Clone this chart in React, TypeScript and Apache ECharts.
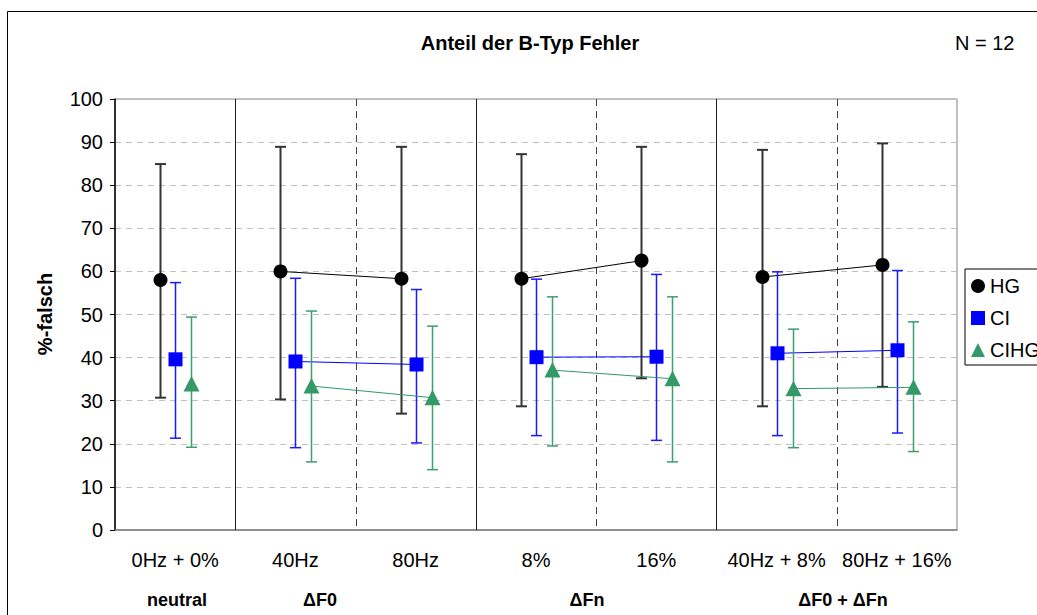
import React, { useEffect, useRef } from "react";
import * as echarts from "echarts";

const FONT = "'Liberation Sans', Arial, sans-serif";

// Conditions on the x axis
const categories = ["0Hz + 0%", "40Hz", "80Hz", "8%", "16%", "40Hz + 8%", "80Hz + 16%"];
// Condition groups written under the axis
const groupLabels = ["neutral", "\u0394F0", "\u0394Fn", "\u0394F0 + \u0394Fn"];
const groupLabelX = [177, 320, 587, 843];
// Y ticks
const yTicks = [0, 10, 20, 30, 40, 50, 60, 70, 80, 90, 100];

// Mean and range (lower / upper whisker) per listener group, in %
const hgMean = [58.0, 60.0, 58.3, 58.3, 62.5, 58.7, 61.5];
const hgLow = [30.7, 30.3, 27.0, 28.7, 35.2, 28.7, 33.2];
const hgHigh = [84.9, 88.9, 88.9, 87.2, 88.9, 88.2, 89.7];

const ciMean = [39.6, 39.1, 38.4, 40.1, 40.2, 41.0, 41.7];
const ciLow = [21.3, 19.1, 20.2, 21.9, 20.8, 21.9, 22.5];
const ciHigh = [57.4, 58.4, 55.8, 58.2, 59.3, 59.9, 60.2];

const cihgMean = [33.9, 33.4, 30.7, 37.1, 35.1, 32.8, 33.1];
const cihgLow = [19.2, 15.8, 14.0, 19.5, 15.8, 19.1, 18.2];
const cihgHigh = [49.4, 50.8, 47.3, 54.1, 54.1, 46.6, 48.3];

// Conditions whose mean is joined to the following condition
const linkedStarts = [1, 3, 5];
// Boundaries between categories: solid = group border, dashed = inside a group
const solidBounds = [1, 3, 5];
const dashedBounds = [2, 4, 6];

type Marker = "circle" | "rect" | "triangle";

function groupSeries(
  name: string,
  means: number[],
  lows: number[],
  highs: number[],
  color: string,
  barColor: string,
  barWidth: number,
  marker: Marker,
  offset: number
) {
  return {
    type: "custom",
    name,
    xAxisIndex: 0,
    yAxisIndex: 0,
    itemStyle: { color },
    data: means.map((m, i) => [i, m, lows[i], highs[i]]),
    renderItem: (_params: any, api: any) => {
      const i = api.value(0);
      const p = api.coord([i, api.value(1)]);
      const lo = api.coord([i, api.value(2)]);
      const hi = api.coord([i, api.value(3)]);
      const x = Math.round(p[0] + offset) + 0.5;
      const cap = 5.5;
      const children: any[] = [];
      if (linkedStarts.indexOf(i) >= 0) {
        const q = api.coord([i + 1, means[i + 1]]);
        children.push({
          type: "line",
          shape: { x1: x, y1: p[1], x2: Math.round(q[0] + offset) + 0.5, y2: q[1] },
          style: { stroke: color, lineWidth: 1 },
        });
      }
      const barStyle = { stroke: barColor, lineWidth: barWidth };
      children.push(
        { type: "line", shape: { x1: x, y1: lo[1], x2: x, y2: hi[1] }, style: barStyle },
        { type: "line", shape: { x1: x - cap, y1: lo[1], x2: x + cap, y2: lo[1] }, style: barStyle },
        { type: "line", shape: { x1: x - cap, y1: hi[1], x2: x + cap, y2: hi[1] }, style: barStyle }
      );
      if (marker === "circle") {
        children.push({ type: "circle", shape: { cx: x, cy: p[1], r: 7 }, style: { fill: color } });
      } else if (marker === "rect") {
        children.push({ type: "rect", shape: { x: x - 7, y: p[1] - 7, width: 14, height: 14 }, style: { fill: color } });
      } else {
        children.push({
          type: "polygon",
          shape: { points: [[x, p[1] - 8], [x - 8, p[1] + 7.5], [x + 8, p[1] + 7.5]] },
          style: { fill: color },
        });
      }
      return { type: "group", children };
    },
  };
}

export default function App() {
  const ref = useRef<HTMLDivElement>(null);

  useEffect(() => {
    if (!ref.current) return;
    const chart = echarts.init(ref.current, undefined, { renderer: "svg" });

    const option: any = {
      animation: false,
      backgroundColor: "#ffffff",
      textStyle: { fontFamily: FONT },
      grid: {
        left: 115,
        top: 99,
        right: 80,
        bottom: 85,
        show: true,
        borderColor: "#808080",
        borderWidth: 1,
      },
      xAxis: [
        {
          type: "category",
          data: categories,
          boundaryGap: true,
          axisLine: { show: true, lineStyle: { color: "#808080", width: 1.5 } },
          axisTick: { show: false },
          axisLabel: { color: "#000", fontSize: 20, fontFamily: FONT, margin: 20, interval: 0 },
          splitLine: { show: false },
        },
      ],
      yAxis: {
        type: "value",
        min: yTicks[0],
        max: yTicks[yTicks.length - 1],
        interval: 10,
        axisLine: { show: true, lineStyle: { color: "#000", width: 1.5 } },
        axisTick: { show: true, inside: false, length: 5, lineStyle: { color: "#000" } },
        axisLabel: { color: "#000", fontSize: 20, fontFamily: FONT, margin: 12 },
        splitLine: { show: true, lineStyle: { color: "#c0c0c0", type: [6, 5], width: 1 } },
      },
      legend: {
        orient: "vertical",
        left: 965,
        top: 269,
        padding: [7, 40, 5, 6],
        itemGap: 12,
        itemWidth: 14,
        itemHeight: 14,
        borderColor: "#000",
        borderWidth: 1,
        backgroundColor: "#fff",
        textStyle: { fontSize: 20, color: "#000", fontFamily: FONT },
        data: [
          { name: "HG", icon: "circle" },
          { name: "CI", icon: "rect" },
          { name: "CIHG", icon: "triangle" },
        ],
      },
      graphic: [
        {
          type: "rect",
          shape: { x: 7.5, y: 11.5, width: 1060, height: 640 },
          style: { fill: "none", stroke: "#000", lineWidth: 1 },
          silent: true,
          z: 100,
        },
        {
          type: "text",
          x: 530,
          y: 43,
          style: {
            text: "Anteil der B-Typ Fehler",
            font: `bold 20px ${FONT}`,
            fill: "#000",
            textAlign: "center",
            textVerticalAlign: "middle",
          },
        },
        {
          type: "text",
          x: 955,
          y: 43,
          style: {
            text: "N = 12",
            font: `20px ${FONT}`,
            fill: "#000",
            textAlign: "left",
            textVerticalAlign: "middle",
          },
        },
        {
          type: "text",
          x: 45,
          y: 314,
          rotation: Math.PI / 2,
          style: {
            text: "%-falsch",
            font: `bold 20px ${FONT}`,
            fill: "#000",
            textAlign: "center",
            textVerticalAlign: "middle",
          },
        },
        ...groupLabels.map((t, k) => ({
          type: "text",
          x: groupLabelX[k],
          y: 600,
          style: {
            text: t,
            font: `bold 18px ${FONT}`,
            fill: "#000",
            textAlign: "center",
            textVerticalAlign: "middle",
          },
        })),
      ],
      series: [
        {
          // vertical separators between conditions
          type: "custom",
          name: "separators",
          silent: true,
          data: [[0]],
          renderItem: (_params: any, api: any) => {
            const step = api.size([1, 0])[0];
            const top = api.coord([0, 100])[1];
            const bottom = api.coord([0, 0])[1];
            const line = (b: number, dashed: boolean) => {
              const x = Math.round(api.coord([b - 1, 0])[0] + step / 2) + 0.5;
              return {
                type: "line",
                shape: { x1: x, y1: top, x2: x, y2: bottom },
                style: {
                  stroke: dashed ? "#404040" : "#202020",
                  lineWidth: 1,
                  lineDash: dashed ? [7, 5] : null,
                },
              };
            };
            return {
              type: "group",
              children: [
                ...solidBounds.map((b) => line(b, false)),
                ...dashedBounds.map((b) => line(b, true)),
              ],
            };
          },
        },
        groupSeries("HG", hgMean, hgLow, hgHigh, "#000000", "#333333", 2, "circle", -15),
        groupSeries("CI", ciMean, ciLow, ciHigh, "#0000ff", "#1a1aff", 1.5, "rect", 0),
        groupSeries("CIHG", cihgMean, cihgLow, cihgHigh, "#339966", "#3d9e6e", 1.5, "triangle", 16),
      ],
    };

    chart.setOption(option);
    return () => chart.dispose();
  }, []);

  return (
    <div
      ref={ref}
      style={{ position: "fixed", left: 0, top: 0, width: 1037, height: 615, background: "#fff" }}
    />
  );
}
